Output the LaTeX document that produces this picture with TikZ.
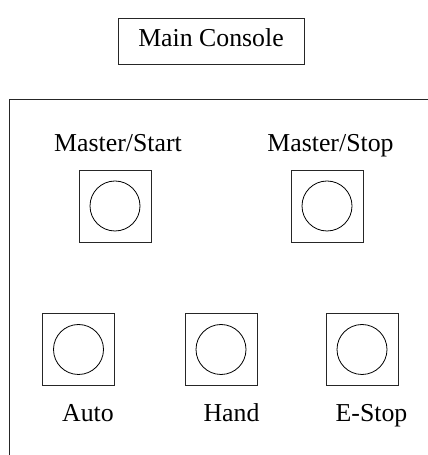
\documentclass[tikz,border=0pt]{standalone}
\usepackage{fontspec}
\setmainfont{Liberation Serif}
\begin{document}
\begin{tikzpicture}[x=1pt,y=1pt,
  frame/.style={draw=black!85, line width=0.9pt},
  btnbox/.style={frame, rectangle, minimum width=72pt, minimum height=72pt, inner sep=0pt},
  btnlamp/.style={draw=black, line width=0.8pt, circle, minimum size=50pt, inner sep=0pt},
  lbl/.style={anchor=base, inner sep=0pt, font=\fontsize{25.8}{30}\selectfont}]
\useasboundingbox (0,0) rectangle (428,455);

% console title box
\node[frame, rectangle, minimum width=186pt, minimum height=46pt, inner sep=0pt] (console) at (211,414) {};
\node[lbl] (consoletxt) at (211,408) {Main Console};

% panel outline running off the lower and right edges
\coordinate (panelBL) at (9,0);
\coordinate (panelTL) at (9,356);
\coordinate (panelTR) at (428,356);
\draw[frame] (panelBL) -- (panelTL) -- (panelTR);

% upper row of buttons
\node[btnbox] (mstartbox) at (115,249) {};
\node[btnlamp] (mstartlamp) at (mstartbox.center) {};
\node[lbl] (mstartlbl) at (118,303) {Master/Start};

\node[btnbox] (mstopbox) at (327,249) {};
\node[btnlamp] (mstoplamp) at (mstopbox.center) {};
\node[lbl] (mstoplbl) at (330.5,303) {Master/Stop};

% lower row of buttons
\node[btnbox] (autobox) at (78.5,105.5) {};
\node[btnlamp] (autolamp) at (autobox.center) {};
\node[lbl] (autolbl) at (88,33) {Auto};

\node[btnbox] (handbox) at (221,105.5) {};
\node[btnlamp] (handlamp) at (handbox.center) {};
\node[lbl] (handlbl) at (231.5,33) {Hand};

\node[btnbox] (estopbox) at (362,105.5) {};
\node[btnlamp] (estoplamp) at (estopbox.center) {};
\node[lbl] (estoplbl) at (371.5,33) {E-Stop};
\end{tikzpicture}
\end{document}
